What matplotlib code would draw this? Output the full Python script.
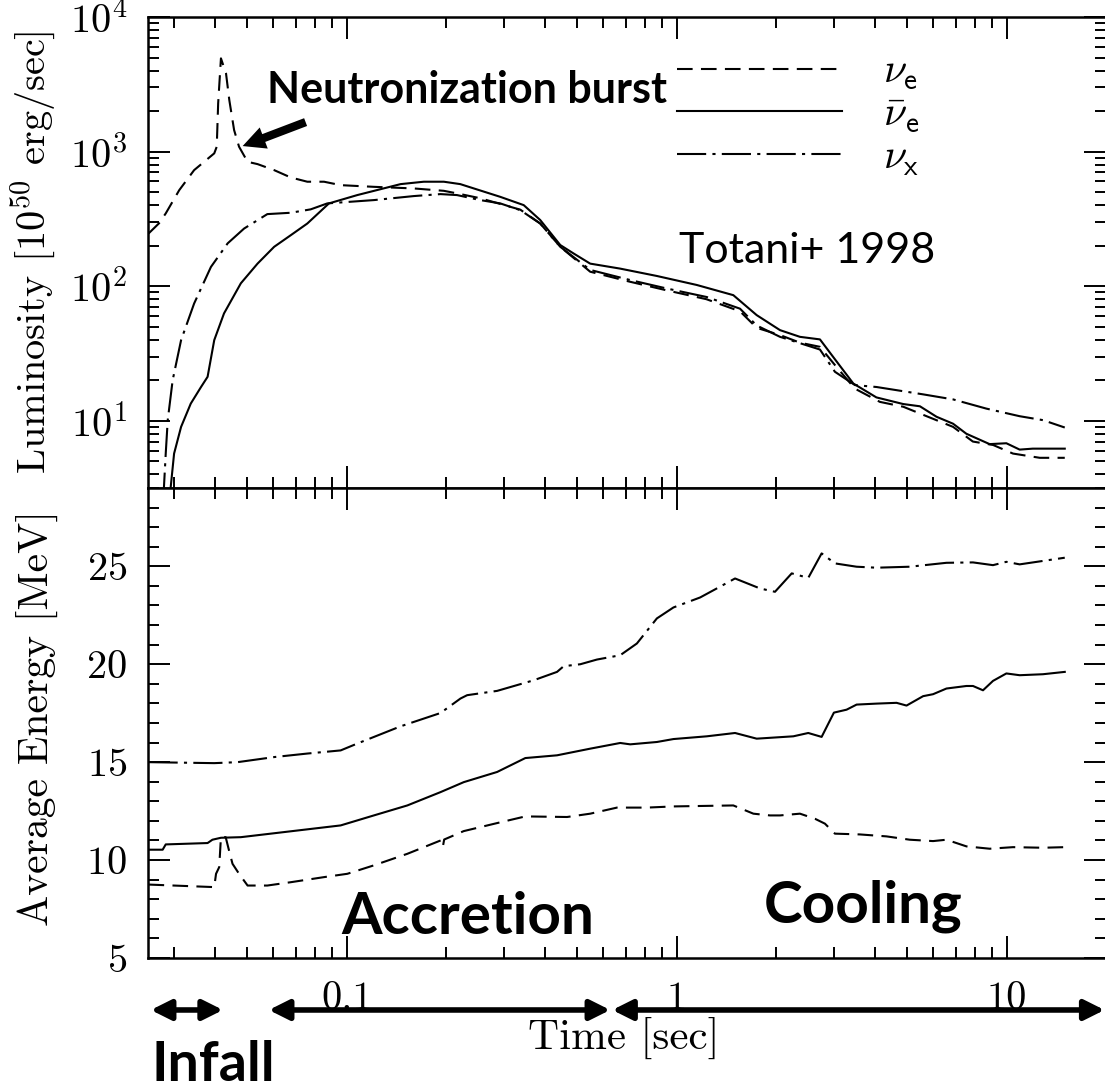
import numpy as np
import matplotlib
matplotlib.use("Agg")
import matplotlib.pyplot as plt
from matplotlib.ticker import LogLocator, MultipleLocator, FuncFormatter, NullFormatter

plt.rcParams['font.family'] = ['cmr10', 'DejaVu Serif']
plt.rcParams['mathtext.fontset'] = 'cm'
plt.rcParams['axes.formatter.use_mathtext'] = True

# Luminosity curves [1e50 erg/s] vs time [s]
t_lum_nue = [0.0251, 0.0270, 0.0283, 0.0311, 0.0345, 0.0397, 0.0404, 0.0408, 0.0416, 0.0431,
             0.0441, 0.0456, 0.0472, 0.0501, 0.0537, 0.0603, 0.0677, 0.0760, 0.0854, 0.0959,
             0.121, 0.160, 0.197, 0.216, 0.254, 0.336, 0.386, 0.444, 0.547, 0.72,
             0.934, 1.23, 1.556, 1.748, 2.057, 2.364, 2.718, 3.05, 3.47, 4.13,
             4.86, 5.72, 6.88, 7.9, 9.1, 10.45, 12.6, 15.0]
lum_nue = [246, 293, 347, 517, 728, 970, 1087, 2280, 4930, 3810,
           2415, 1445, 1087, 839, 807, 728, 642, 597, 597, 563,
           547, 532, 511, 489, 450, 370, 292, 196, 128, 108,
           93, 80, 65, 49, 43.3, 38, 35.4, 25.1, 17.3, 13.8,
           12.7, 10.8, 9.0, 7.0, 6.6, 5.7, 5.3, 5.3]

t_lum_anue = [0.0290, 0.0300, 0.0315, 0.0337, 0.0362, 0.0379, 0.0397, 0.0425, 0.0478, 0.0537,
              0.0603, 0.0677, 0.0760, 0.0884, 0.1077, 0.1457, 0.1713, 0.197, 0.221, 0.243,
              0.292, 0.344, 0.386, 0.444, 0.487, 0.547, 0.674, 0.871, 1.151, 1.485,
              1.748, 2.057, 2.364, 2.718, 2.98, 3.43, 4.03, 4.86, 5.46, 6.13,
              6.88, 7.55, 8.88, 9.98, 10.95, 12.0, 15.0]
lum_anue = [2.5, 5.7, 9.0, 13.4, 17.8, 21.2, 39.7, 62.7, 105, 147,
            196, 239, 292, 412, 475, 573, 597, 597, 573, 532,
            461, 400, 310, 202, 175, 147, 135, 119, 102, 85.7,
            60.9, 47.1, 42, 40.2, 29.8, 18.9, 14.9, 13.3, 12.8, 10.7,
            9.5, 8.0, 6.7, 6.8, 6.1, 6.2, 6.2]

t_lum_nux = [0.0278, 0.0283, 0.0287, 0.0297, 0.0315, 0.0345, 0.0388, 0.0436, 0.0489, 0.0575,
             0.0677, 0.0778, 0.0874, 0.121, 0.1598, 0.1925, 0.216, 0.254, 0.292, 0.336,
             0.386, 0.444, 0.547, 0.723, 0.934, 1.234, 1.556, 1.748, 2.057, 2.718,
             3.017, 3.469, 4.034, 5.58, 6.88, 8.68, 10.95, 12.88, 15.0]
lum_nux = [2.5, 5.7, 10.1, 20, 39.7, 74.3, 139, 208, 268, 343,
           351, 372, 412, 436, 467, 483, 475, 436, 412, 367,
           292, 196, 132, 111, 96, 83, 68, 51, 42, 33.8,
           23.1, 18.4, 17.8, 15.7, 14.4, 12.3, 10.8, 10.1, 8.9]

# Average energy curves [MeV] vs time [s]
t_en_nue = [0.0251, 0.0397, 0.0402, 0.0411, 0.0416, 0.0430, 0.0440, 0.0451, 0.0472, 0.0501,
            0.0575, 0.0677, 0.0854, 0.1005, 0.1209, 0.1527, 0.1925, 0.1950, 0.1960, 0.1975,
            0.2264, 0.2858, 0.3479, 0.4655, 0.5473, 0.6594, 0.8124, 0.9779, 1.485, 1.708,
            1.918, 2.057, 2.364, 2.625, 2.814, 3.017, 3.591, 4.325, 5.087, 5.984,
            6.570, 7.552, 8.884, 10.45, 12.88, 15.0]
en_nue = [8.75, 8.62, 9.3, 9.64, 11.17, 11.17, 10.5, 9.81, 9.30, 8.70,
          8.70, 8.87, 9.13, 9.30, 9.73, 10.32, 11.0, 11.05, 10.75, 11.05,
          11.48, 11.89, 12.23, 12.20, 12.37, 12.68, 12.68, 12.74, 12.79, 12.37,
          12.28, 12.28, 12.37, 12.11, 11.86, 11.35, 11.31, 11.21, 11.04, 10.97,
          11.04, 10.70, 10.58, 10.66, 10.63, 10.66]

t_en_anue = [0.0251, 0.0277, 0.0283, 0.0379, 0.0392, 0.0416, 0.0478, 0.0959, 0.1209, 0.1527,
             0.1925, 0.2264, 0.2858, 0.3479, 0.4341, 0.5473, 0.6745, 0.7233, 0.8711, 0.9779,
             1.234, 1.503, 1.748, 2.257, 2.505, 2.750, 2.996, 3.273, 3.510, 4.034,
             4.638, 4.973, 5.583, 5.984, 6.570, 7.552, 7.907, 8.479, 9.091, 9.979,
             10.95, 12.88, 15.0]
en_anue = [10.53, 10.53, 10.8, 10.87, 11.04, 11.14, 11.17, 11.77, 12.28, 12.79,
           13.47, 13.98, 14.50, 15.21, 15.35, 15.69, 15.98, 15.91, 16.03, 16.18,
           16.32, 16.49, 16.20, 16.32, 16.49, 16.29, 17.53, 17.68, 17.94, 17.99,
           18.03, 17.89, 18.37, 18.47, 18.76, 18.89, 18.89, 18.67, 19.15, 19.53,
           19.44, 19.49, 19.61]

t_en_nux = [0.0251, 0.0397, 0.0467, 0.0603, 0.0760, 0.0959, 0.1077, 0.1457, 0.1925, 0.2213,
            0.2318, 0.2858, 0.3686, 0.4341, 0.4546, 0.5105, 0.5735, 0.6745, 0.7577, 0.8711,
            0.9779, 1.178, 1.323, 1.503, 1.789, 1.986, 2.232, 2.505, 2.750, 3.017,
            3.510, 4.034, 5.087, 6.570, 7.907, 9.091, 9.979, 10.95, 15.0]
en_nux = [15.0, 14.95, 15.0, 15.26, 15.44, 15.6, 15.95, 16.83, 17.51, 18.25,
          18.42, 18.64, 19.18, 19.61, 19.90, 20.0, 20.24, 20.46, 21.06, 22.34,
          22.90, 23.41, 23.87, 24.38, 23.87, 23.70, 24.64, 24.41, 25.66, 25.15,
          24.98, 24.93, 24.98, 25.18, 25.2, 25.06, 25.23, 25.10, 25.44]

legend_labels = [r'$\nu_{\mathsf{e}}$', r'$\bar{\nu}_{\mathsf{e}}$', r'$\nu_{\mathsf{x}}$']

# phase ranges (start, end) in seconds
phase_infall = (0.0255, 0.0422)
phase_accretion = (0.0581, 0.629)
phase_cooling = (0.638, 19.8)

dashed = (0, (7.5, 4))
dashdot = (0, (14, 3, 1.5, 3))
lw = 1.5

fig = plt.figure(figsize=(11.05, 10.9), dpi=100)
ax1 = fig.add_axes([0.1339, 0.5523, 0.8670, 0.4321])
ax2 = fig.add_axes([0.1339, 0.1211, 0.8670, 0.4312], sharex=ax1)

l1, = ax1.plot(t_lum_nue, lum_nue, color='black', lw=lw, linestyle=dashed)
l2, = ax1.plot(t_lum_anue, lum_anue, color='black', lw=lw, linestyle='-')
l3, = ax1.plot(t_lum_nux, lum_nux, color='black', lw=lw, linestyle=dashdot)

ax2.plot(t_en_nue, en_nue, color='black', lw=lw, linestyle=dashed)
ax2.plot(t_en_anue, en_anue, color='black', lw=lw, linestyle='-')
ax2.plot(t_en_nux, en_nux, color='black', lw=lw, linestyle=dashdot)

for ax in (ax1, ax2):
    ax.set_xscale('log')
    ax.tick_params(which='both', direction='in', top=True, right=True, width=1.4,
                   labelsize=29)
    ax.tick_params(which='major', length=16)
    ax.tick_params(which='minor', length=8)
    ax.tick_params(axis='y', pad=15)
    for s in ax.spines.values():
        s.set_linewidth(1.8)

ax1.set_xlim(0.025, 20)
ax1.xaxis.set_major_locator(LogLocator(base=10))
ax1.xaxis.set_minor_locator(LogLocator(base=10, subs=np.arange(2, 10)))
ax1.xaxis.set_minor_formatter(NullFormatter())
ax1.xaxis.set_major_formatter(FuncFormatter(lambda v, p: '%g' % v))
ax1.tick_params(labelbottom=False)
ax2.tick_params(axis='x', pad=17)

ax1.set_yscale('log')
ax1.set_ylim(10 ** 0.5, 1e4)
ax1.yaxis.set_major_locator(LogLocator(base=10))
ax1.yaxis.set_minor_locator(LogLocator(base=10, subs=np.arange(2, 10)))
ax1.yaxis.set_minor_formatter(NullFormatter())
ax1.yaxis.set_major_formatter(FuncFormatter(lambda v, p: r'$10^{%d}$' % round(np.log10(v))))

ax2.set_ylim(5, 29)
ax2.yaxis.set_major_locator(MultipleLocator(5))
ax2.yaxis.set_minor_locator(MultipleLocator(1))

ax1.set_ylabel(r'Luminosity [$10^{\mathsf{50}}$ erg/sec]', fontsize=29)
ax1.yaxis.set_label_coords(-0.094, 0.50)
ax2.set_ylabel('Average Energy [MeV]', fontsize=30)
ax2.yaxis.set_label_coords(-0.094, 0.51)
ax2.set_xlabel('Time [sec]', fontsize=31)
ax2.xaxis.set_label_coords(0.497, -0.125)

ax1.legend([l1, l2, l3], legend_labels, loc='upper left', bbox_to_anchor=(0.552, 0.922),
           frameon=False, fontsize=30, handlelength=3.96, handletextpad=1.0,
           labelspacing=0.1, borderpad=0, borderaxespad=0)

# annotations
sans = 'Lato'
ax1.text(0.2323, 2864, 'Neutronization burst', fontsize=31, fontweight='bold', family=sans,
         ha='center', va='center')
ax1.annotate('', xy=(0.0484, 1099), xytext=(0.0751, 1656),
             arrowprops=dict(arrowstyle='simple,head_length=0.65,head_width=0.65,tail_width=0.24',
                             mutation_scale=25, color='black', lw=0, shrinkA=0, shrinkB=0))
ax1.text(2.491, 183.6, 'Totani+ 1998', fontsize=31, family=sans, ha='center', va='center')

ax2.text(0.2331, 6.25, 'Accretion', fontsize=42, fontweight='bold', family=sans,
         ha='center', va='baseline')
ax2.text(3.680, 6.81, 'Cooling', fontsize=42, fontweight='bold', family=sans,
         ha='center', va='baseline')
ax2.text(0.03945, -0.262, 'Infall', fontsize=40, fontweight='bold', family=sans,
         ha='center', va='baseline', transform=ax2.get_xaxis_transform())

for start, end in (phase_infall, phase_accretion, phase_cooling):
    ax2.annotate('', xy=(end, -0.1106), xytext=(start, -0.1106),
                 xycoords=ax2.get_xaxis_transform(), textcoords=ax2.get_xaxis_transform(),
                 arrowprops=dict(arrowstyle='<|-|>,head_length=0.4,head_width=0.2',
                                 mutation_scale=30, lw=4, color='black',
                                 shrinkA=0, shrinkB=0),
                 annotation_clip=False)

fig.savefig('out.png', dpi=100)
